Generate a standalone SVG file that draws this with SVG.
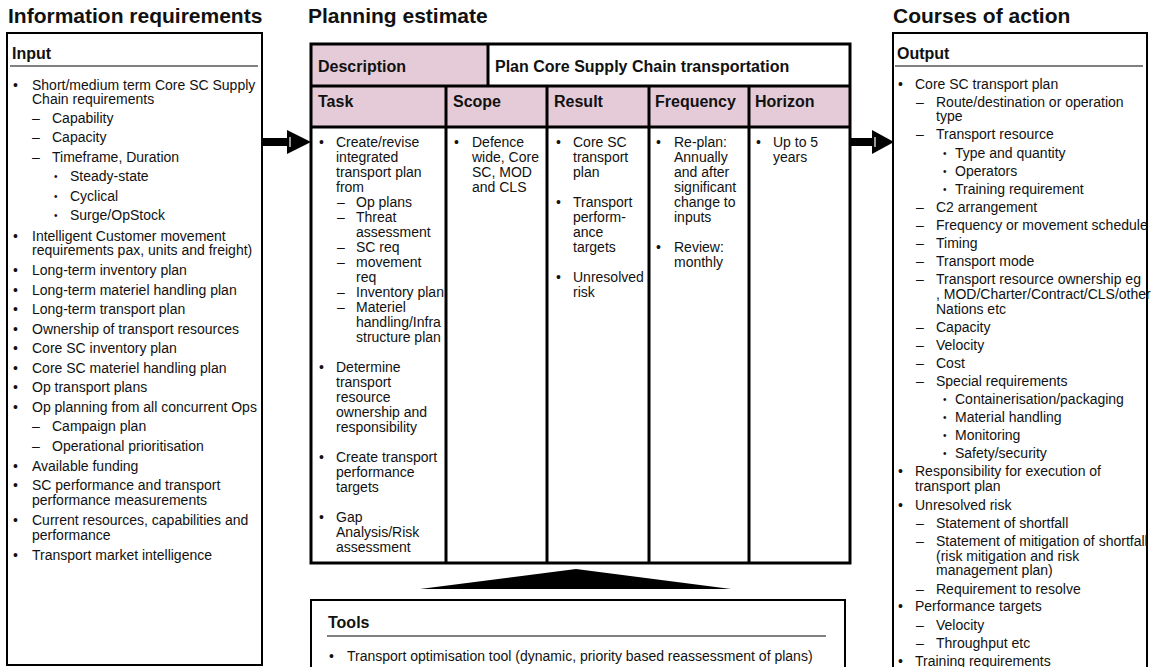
<svg xmlns="http://www.w3.org/2000/svg" width="1156" height="667" viewBox="0 0 1156 667">
<style>
text{font-family:"Liberation Sans",Arial,sans-serif;fill:#111}
.title{font-size:21px;font-weight:bold}
.h{font-size:16px;font-weight:bold}
.t{font-size:14px}
.b3{font-size:10px}
.box{fill:#fff;stroke:#000;stroke-width:2}
.rule{stroke:#808080;stroke-width:2}
.pink{fill:#E5CBD8}
.div{stroke:#000;stroke-width:3}
.arrow{fill:#000}
</style>
<rect width="1156" height="667" fill="#fff"/>

<g id="titles">
<text class="title" x="8" y="23">Information requirements</text>
<text class="title" x="308" y="23">Planning estimate</text>
<text class="title" x="893" y="23">Courses of action</text>
</g>

<g id="connectors">
<rect class="arrow" x="262" y="138" width="26" height="8"/>
<polygon class="arrow" points="287,130 311,142 287,154"/>
<line x1="290" y1="137" x2="290" y2="147" stroke="#fff" stroke-width="1.2"/>
<rect class="arrow" x="850" y="138" width="23" height="8"/>
<polygon class="arrow" points="872,130 894,142 872,154"/>
<line x1="875" y1="137" x2="875" y2="147" stroke="#fff" stroke-width="1.2"/>
<polygon class="arrow" points="420,589 576,569 731,589"/>
</g>

<g id="input">
<rect class="box" x="7" y="33" width="255" height="632"/>
<text class="h" x="12" y="59">Input</text>
<line class="rule" x1="10" y1="66" x2="258" y2="66"/>
<g class="t">
<text class="t" x="13" y="90">•</text><text class="t" x="32" y="90">Short/medium term Core SC Supply</text>
<text class="t" x="32" y="104">Chain requirements</text>
<text class="t" x="32" y="123">–</text><text class="t" x="52" y="123">Capability</text>
<text class="t" x="32" y="142">–</text><text class="t" x="52" y="142">Capacity</text>
<text class="t" x="32" y="162">–</text><text class="t" x="52" y="162">Timeframe, Duration</text>
<text class="b3" x="54" y="180">•</text><text class="t" x="70" y="181">Steady-state</text>
<text class="b3" x="54" y="200">•</text><text class="t" x="70" y="201">Cyclical</text>
<text class="b3" x="54" y="219">•</text><text class="t" x="70" y="220">Surge/OpStock</text>
<text class="t" x="13" y="241">•</text><text class="t" x="32" y="241">Intelligent Customer movement</text>
<text class="t" x="32" y="255">requirements pax, units and freight)</text>
<text class="t" x="13" y="275">•</text><text class="t" x="32" y="275">Long-term inventory plan</text>
<text class="t" x="13" y="295">•</text><text class="t" x="32" y="295">Long-term materiel handling plan</text>
<text class="t" x="13" y="314">•</text><text class="t" x="32" y="314">Long-term transport plan</text>
<text class="t" x="13" y="334">•</text><text class="t" x="32" y="334">Ownership of transport resources</text>
<text class="t" x="13" y="353">•</text><text class="t" x="32" y="353">Core SC inventory plan</text>
<text class="t" x="13" y="373">•</text><text class="t" x="32" y="373">Core SC materiel handling plan</text>
<text class="t" x="13" y="392">•</text><text class="t" x="32" y="392">Op transport plans</text>
<text class="t" x="13" y="412">•</text><text class="t" x="32" y="412">Op planning from all concurrent Ops</text>
<text class="t" x="32" y="431">–</text><text class="t" x="52" y="431">Campaign plan</text>
<text class="t" x="32" y="451">–</text><text class="t" x="52" y="451">Operational prioritisation</text>
<text class="t" x="13" y="471">•</text><text class="t" x="32" y="471">Available funding</text>
<text class="t" x="13" y="490">•</text><text class="t" x="32" y="490">SC performance and transport</text>
<text class="t" x="32" y="505">performance measurements</text>
<text class="t" x="13" y="525">•</text><text class="t" x="32" y="525">Current resources, capabilities and</text>
<text class="t" x="32" y="540">performance</text>
<text class="t" x="13" y="560">•</text><text class="t" x="32" y="560">Transport market intelligence</text>
</g>
</g>

<g id="planning">
<rect x="311" y="44" width="539" height="519" fill="#fff"/>
<rect class="pink" x="311" y="44" width="178" height="42"/>
<rect class="pink" x="311" y="86" width="539" height="41"/>
<rect x="311" y="44" width="539" height="519" fill="none" stroke="#000" stroke-width="3"/>
<line class="div" x1="311" y1="86" x2="850" y2="86"/>
<line class="div" x1="311" y1="127" x2="850" y2="127"/>
<line class="div" x1="488" y1="44" x2="488" y2="86"/>
<line class="div" x1="446" y1="86" x2="446" y2="563"/>
<line class="div" x1="547" y1="86" x2="547" y2="563"/>
<line class="div" x1="649" y1="86" x2="649" y2="563"/>
<line class="div" x1="749" y1="86" x2="749" y2="563"/>
<text class="h" x="318" y="72">Description</text>
<text class="h" x="495" y="72">Plan Core Supply Chain transportation</text>
<text class="h" x="318" y="107">Task</text>
<text class="h" x="453" y="107">Scope</text>
<text class="h" x="554" y="107">Result</text>
<text class="h" x="655" y="107">Frequency</text>
<text class="h" x="755" y="107">Horizon</text>
<!-- Task -->
<text class="t" x="319" y="147">•</text><text class="t" x="336" y="147">Create/revise</text>
<text class="t" x="336" y="162">integrated</text>
<text class="t" x="336" y="177">transport plan</text>
<text class="t" x="336" y="192">from</text>
<text class="t" x="337" y="207">–</text><text class="t" x="356" y="207">Op plans</text>
<text class="t" x="337" y="222">–</text><text class="t" x="356" y="222">Threat</text>
<text class="t" x="356" y="237">assessment</text>
<text class="t" x="337" y="252">–</text><text class="t" x="356" y="252">SC req</text>
<text class="t" x="337" y="267">–</text><text class="t" x="356" y="267">movement</text>
<text class="t" x="356" y="282">req</text>
<text class="t" x="337" y="297">–</text><text class="t" x="356" y="297">Inventory plan</text>
<text class="t" x="337" y="312">–</text><text class="t" x="356" y="312">Materiel</text>
<text class="t" x="356" y="327">handling/Infra</text>
<text class="t" x="356" y="342">structure plan</text>
<text class="t" x="319" y="372">•</text><text class="t" x="336" y="372">Determine</text>
<text class="t" x="336" y="387">transport</text>
<text class="t" x="336" y="402">resource</text>
<text class="t" x="336" y="417">ownership and</text>
<text class="t" x="336" y="432">responsibility</text>
<text class="t" x="319" y="462">•</text><text class="t" x="336" y="462">Create transport</text>
<text class="t" x="336" y="477">performance</text>
<text class="t" x="336" y="492">targets</text>
<text class="t" x="319" y="522">•</text><text class="t" x="336" y="522">Gap</text>
<text class="t" x="336" y="537">Analysis/Risk</text>
<text class="t" x="336" y="552">assessment</text>
<!-- Scope -->
<text class="t" x="454" y="147">•</text><text class="t" x="472" y="147">Defence</text>
<text class="t" x="472" y="162">wide, Core</text>
<text class="t" x="472" y="177">SC, MOD</text>
<text class="t" x="472" y="192">and CLS</text>
<!-- Result -->
<text class="t" x="556" y="147">•</text><text class="t" x="573" y="147">Core SC</text>
<text class="t" x="573" y="162">transport</text>
<text class="t" x="573" y="177">plan</text>
<text class="t" x="556" y="207">•</text><text class="t" x="573" y="207">Transport</text>
<text class="t" x="573" y="222">perform-</text>
<text class="t" x="573" y="237">ance</text>
<text class="t" x="573" y="252">targets</text>
<text class="t" x="556" y="282">•</text><text class="t" x="573" y="282">Unresolved</text>
<text class="t" x="573" y="297">risk</text>
<!-- Frequency -->
<text class="t" x="656" y="147">•</text><text class="t" x="674" y="147">Re-plan:</text>
<text class="t" x="674" y="162">Annually</text>
<text class="t" x="674" y="177">and after</text>
<text class="t" x="674" y="192">significant</text>
<text class="t" x="674" y="207">change to</text>
<text class="t" x="674" y="222">inputs</text>
<text class="t" x="656" y="252">•</text><text class="t" x="674" y="252">Review:</text>
<text class="t" x="674" y="267">monthly</text>
<!-- Horizon -->
<text class="t" x="756" y="147">•</text><text class="t" x="773" y="147">Up to 5</text>
<text class="t" x="773" y="162">years</text>
</g>

<g id="tools">
<rect class="box" x="311" y="600" width="534" height="75"/>
<text class="h" x="328" y="628">Tools</text>
<line class="rule" x1="327" y1="636" x2="826" y2="636"/>
<text class="t" x="329" y="661">•</text><text class="t" x="347" y="661">Transport optimisation tool (dynamic, priority based reassessment of plans)</text>
</g>

<g id="output">
<rect class="box" x="893" y="33" width="254" height="642"/>
<text class="h" x="897" y="59">Output</text>
<line class="rule" x1="895" y1="66" x2="1143" y2="66"/>
<text class="t" x="898" y="89">•</text><text class="t" x="915" y="89">Core SC transport plan</text>
<text class="t" x="916" y="107">–</text><text class="t" x="936" y="107">Route/destination or operation</text>
<text class="t" x="936" y="121">type</text>
<text class="t" x="916" y="139">–</text><text class="t" x="936" y="139">Transport resource</text>
<text class="b3" x="943" y="157">•</text><text class="t" x="955" y="158">Type and quantity</text>
<text class="b3" x="943" y="175">•</text><text class="t" x="955" y="176">Operators</text>
<text class="b3" x="943" y="193">•</text><text class="t" x="955" y="194">Training requirement</text>
<text class="t" x="916" y="212">–</text><text class="t" x="936" y="212">C2 arrangement</text>
<text class="t" x="916" y="230">–</text><text class="t" x="936" y="230">Frequency or movement schedule</text>
<text class="t" x="916" y="248">–</text><text class="t" x="936" y="248">Timing</text>
<text class="t" x="916" y="266">–</text><text class="t" x="936" y="266">Transport mode</text>
<text class="t" x="916" y="284">–</text><text class="t" x="936" y="284">Transport resource ownership eg</text>
<text class="t" x="936" y="299">, MOD/Charter/Contract/CLS/other</text>
<text class="t" x="936" y="314">Nations etc</text>
<text class="t" x="916" y="332">–</text><text class="t" x="936" y="332">Capacity</text>
<text class="t" x="916" y="350">–</text><text class="t" x="936" y="350">Velocity</text>
<text class="t" x="916" y="368">–</text><text class="t" x="936" y="368">Cost</text>
<text class="t" x="916" y="386">–</text><text class="t" x="936" y="386">Special requirements</text>
<text class="b3" x="943" y="403">•</text><text class="t" x="955" y="404">Containerisation/packaging</text>
<text class="b3" x="943" y="421">•</text><text class="t" x="955" y="422">Material handling</text>
<text class="b3" x="943" y="439">•</text><text class="t" x="955" y="440">Monitoring</text>
<text class="b3" x="943" y="457">•</text><text class="t" x="955" y="458">Safety/security</text>
<text class="t" x="898" y="476">•</text><text class="t" x="915" y="476">Responsibility for execution of</text>
<text class="t" x="915" y="491">transport plan</text>
<text class="t" x="898" y="510">•</text><text class="t" x="915" y="510">Unresolved risk</text>
<text class="t" x="916" y="528">–</text><text class="t" x="936" y="528">Statement of shortfall</text>
<text class="t" x="916" y="546">–</text><text class="t" x="936" y="546">Statement of mitigation of shortfall</text>
<text class="t" x="936" y="561">(risk mitigation and risk</text>
<text class="t" x="936" y="575">management plan)</text>
<text class="t" x="916" y="594">–</text><text class="t" x="936" y="594">Requirement to resolve</text>
<text class="t" x="898" y="611">•</text><text class="t" x="915" y="611">Performance targets</text>
<text class="t" x="916" y="630">–</text><text class="t" x="936" y="630">Velocity</text>
<text class="t" x="916" y="648">–</text><text class="t" x="936" y="648">Throughput etc</text>
<text class="t" x="898" y="666">•</text><text class="t" x="915" y="666">Training requirements</text>
</g>
</svg>
